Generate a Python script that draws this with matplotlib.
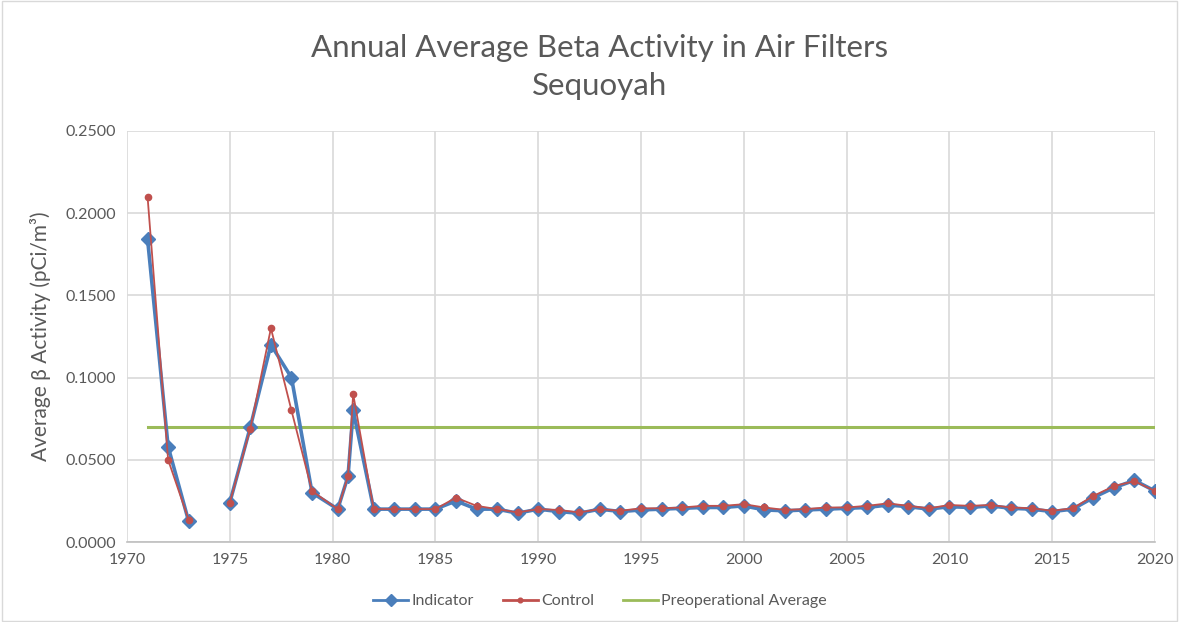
from matplotlib import pyplot as plt
import numpy as np

plt.rcParams['font.family'] = ['Lato', 'DejaVu Sans']

# data
ind_years = [1971, 1972, 1973, None, 1975, 1976, 1977, 1978, 1979, 1980.25, 1980.75, 1981,
             1982, 1983, 1984, 1985, 1986, 1987, 1988, 1989, 1990, 1991, 1992, 1993, 1994,
             1995, 1996, 1997, 1998, 1999, 2000, 2001, 2002, 2003, 2004, 2005, 2006, 2007,
             2008, 2009, 2010, 2011, 2012, 2013, 2014, 2015, 2016, 2017, 2018, 2019, 2020]
indicator = [0.1843, 0.058, 0.0125, None, 0.024, 0.070, 0.120, 0.100, 0.030, 0.020, 0.040, 0.080,
             0.020, 0.020, 0.020, 0.020, 0.025, 0.020, 0.020, 0.0175, 0.020, 0.0185, 0.0175, 0.020, 0.0185,
             0.0195, 0.020, 0.0205, 0.021, 0.021, 0.022, 0.0195, 0.019, 0.0195, 0.020, 0.0205, 0.021, 0.0225,
             0.0215, 0.020, 0.0215, 0.021, 0.022, 0.0205, 0.020, 0.0185, 0.020, 0.027, 0.033, 0.0375, 0.031]
control = [0.210, 0.050, 0.0135, None, 0.024, 0.069, 0.130, 0.080, 0.031, 0.020, 0.040, 0.090,
           0.020, 0.020, 0.020, 0.020, 0.027, 0.022, 0.020, 0.018, 0.020, 0.0195, 0.018, 0.020, 0.019,
           0.0205, 0.0205, 0.021, 0.022, 0.022, 0.023, 0.021, 0.0195, 0.020, 0.021, 0.021, 0.022, 0.0235,
           0.022, 0.0205, 0.0225, 0.022, 0.0225, 0.021, 0.0205, 0.019, 0.0205, 0.028, 0.034, 0.037, 0.031]
preop_years = [1971, 2020]
preop = [0.07, 0.07]

x = np.array([np.nan if v is None else v for v in ind_years], dtype=float)
yi = np.array([np.nan if v is None else v for v in indicator], dtype=float)
yc = np.array([np.nan if v is None else v for v in control], dtype=float)

fig = plt.figure(figsize=(11.79, 6.22), dpi=100)
ax = fig.add_axes([127/1179, 1 - 542/622, (1155-127)/1179, (542-131)/622])

c_ind = '#4A7EBB'
c_ctl = '#C0504D'
c_pre = '#9BBB59'
grey = '#595959'

ax.plot(x, yi, color=c_ind, lw=2.6, marker='D', ms=7.5, label='Indicator', zorder=3)
ax.plot(x, yc, color=c_ctl, lw=1.3, marker='o', ms=4.5, label='Control', zorder=4)
ax.plot(preop_years, preop, color=c_pre, lw=2.2, label='Preoperational Average', zorder=2)

ax.set_xlim(1970, 2020)
ax.set_ylim(0, 0.25)
ax.set_xticks(np.arange(1970, 2021, 5))
ax.set_yticks(np.arange(0, 0.2501, 0.05))
ax.set_yticklabels(['%.4f' % v for v in np.arange(0, 0.2501, 0.05)])
ax.grid(True, color='#D9D9D9', lw=1.2)
ax.set_axisbelow(True)
for s in ['top', 'right']:
    ax.spines[s].set_visible(False)
ax.spines['left'].set_visible(False)
ax.spines['bottom'].set_color('#BFBFBF')
ax.spines['bottom'].set_linewidth(1.2)
ax.tick_params(length=0, labelsize=11.5, colors=grey, pad=8)

ax.set_ylabel('Average β Activity (pCi/m³)', fontsize=15, color=grey, labelpad=10)
fig.text(600/1179, 1 - 67/622, 'Annual Average Beta Activity in Air Filters\nSequoyah',
         ha='center', va='center', fontsize=22.5, color=grey, linespacing=1.45)

leg = fig.legend(loc='center', bbox_to_anchor=(600/1179, 1 - 601/622), ncol=3,
                 frameon=False, fontsize=11.5, handlelength=2.2, columnspacing=1.8,
                 handletextpad=0.2, markerscale=0.75)
for t in leg.get_texts():
    t.set_color(grey)
for h in leg.get_lines():
    h.set_linewidth(2.0)

# outer frame
fig.patches.append(plt.Rectangle((0.002, 0.002), 0.996, 0.996, transform=fig.transFigure,
                                 fill=False, edgecolor='#D9D9D9', lw=1))

fig.savefig('out.png', dpi=100)
